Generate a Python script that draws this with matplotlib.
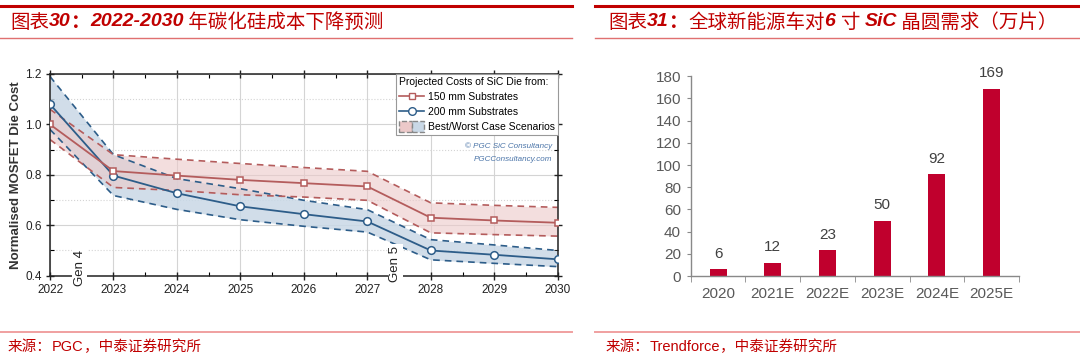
import numpy as np
import matplotlib
matplotlib.use("Agg")
import matplotlib.pyplot as plt
from matplotlib.lines import Line2D
from matplotlib.patches import Patch
from matplotlib.legend_handler import HandlerTuple

W, H = 1080, 363
RED_T = "#C00000"
CJK = ["Noto Sans CJK SC", "DejaVu Sans"]
LAT = ["Liberation Sans", "DejaVu Sans"]

# ---- left chart data: projected SiC die cost ----
years = [2022, 2023, 2024, 2025, 2026, 2027, 2028, 2029, 2030]
cost_150 = [1.00, 0.815, 0.797, 0.780, 0.767, 0.754, 0.630, 0.619, 0.610]
cost_150_hi = [1.06, 0.880, 0.862, 0.845, 0.829, 0.814, 0.689, 0.679, 0.671]
cost_150_lo = [0.94, 0.750, 0.738, 0.721, 0.712, 0.699, 0.570, 0.563, 0.557]
cost_200 = [1.08, 0.797, 0.727, 0.675, 0.644, 0.615, 0.500, 0.483, 0.465]
cost_200_hi = [1.19, 0.880, 0.785, 0.745, 0.699, 0.662, 0.543, 0.522, 0.500]
cost_200_lo = [0.98, 0.718, 0.663, 0.622, 0.596, 0.573, 0.463, 0.449, 0.436]

# ---- right chart data: 6-inch SiC wafer demand (10k pcs) ----
cats = ["2020", "2021E", "2022E", "2023E", "2024E", "2025E"]
demand = [6, 12, 23, 50, 92, 169]

C150, C200 = "#b45c5c", "#2d5d89"
F150, F200 = "#ecc9c9", "#c9d8e6"
BAR = "#C0002D"
GREYTXT = "#595959"

fig = plt.figure(figsize=(W / 100, H / 100), dpi=100)
fig.patch.set_facecolor("white")


def hline(x0, x1, y, color, lw):
    fig.add_artist(Line2D([x0 / W, x1 / W], [1 - y / H, 1 - y / H],
                          transform=fig.transFigure, color=color, lw=lw))


def rich(x, y, pieces, size):
    """draw a row of text pieces one after another, starting at pixel x"""
    r = fig.canvas.get_renderer()
    for s, fam, wt, st in pieces:
        t = fig.text(x / W, 1 - y / H, s, family=fam, weight=wt, style=st,
                     fontsize=size, color=RED_T, va="center", ha="left")
        x = t.get_window_extent(r).x1


# header / footer rules
hline(0, 572, 5.5, RED_T, 2.2)
hline(595, 1080, 5.5, RED_T, 2.2)
hline(0, 572, 38, "#e07070", 1.0)
hline(595, 1080, 38, "#e07070", 1.0)
hline(0, 572, 332, "#f0a0a0", 1.4)
hline(595, 1080, 332, "#f0a0a0", 1.4)

rich(10, 22, [("图表", CJK, "normal", "normal"),
              ("30", LAT, "bold", "italic"),
              ("：", CJK, "bold", "normal"),
              ("2022-2030", LAT, "bold", "italic"),
              (" 年碳化硅成本下降预测", CJK, "normal", "normal")], 14)
rich(608, 22, [("图表", CJK, "normal", "normal"),
               ("31", LAT, "bold", "italic"),
               ("：", CJK, "bold", "normal"),
               ("全球新能源车对", CJK, "normal", "normal"),
               ("6 ", LAT, "bold", "italic"),
               ("寸 ", CJK, "normal", "normal"),
               ("SiC", LAT, "bold", "italic"),
               (" 晶圆需求（万片）", CJK, "normal", "normal")], 14)

rich(8, 347, [("来源：", CJK, "normal", "normal"),
              ("PGC", LAT, "normal", "normal"),
              ("，中泰证券研究所", CJK, "normal", "normal")], 10.5)
rich(606, 347, [("来源：", CJK, "normal", "normal"),
                ("Trendforce", LAT, "normal", "normal"),
                ("，中泰证券研究所", CJK, "normal", "normal")], 10.5)

# ---------------- left: cost projection ----------------
ax = fig.add_axes([50 / W, 1 - 275.7 / H, 507.7 / W, 201.7 / H])
ax.set_xlim(2022, 2030)
ax.set_ylim(0.4, 1.2)
ax.fill_between(years, cost_200_lo, cost_200_hi, color=F200, alpha=0.85, lw=0, zorder=1)
ax.fill_between(years, cost_150_lo, cost_150_hi, color=F150, alpha=0.6, lw=0, zorder=1.1)
for lo, hi, c in [(cost_200_lo, cost_200_hi, C200), (cost_150_lo, cost_150_hi, C150)]:
    ax.plot(years, lo, color=c, lw=1.2, ls=(0, (4, 3)), zorder=2)
    ax.plot(years, hi, color=c, lw=1.2, ls=(0, (4, 3)), zorder=2)
ax.plot(years, cost_200, color=C200, lw=1.3, marker="o", ms=5.5, mfc="white",
        mec=C200, mew=1.1, zorder=3)
ax.plot(years, cost_150, color=C150, lw=1.3, marker="s", ms=5, mfc="white",
        mec=C150, mew=1.1, zorder=3)

ax.set_xticks(years)
ax.set_xticks(np.arange(2022.5, 2030, 1), minor=True)
ax.set_yticks([0.4, 0.6, 0.8, 1.0, 1.2])
ax.set_yticks([0.5, 0.7, 0.9, 1.1], minor=True)
ax.set_yticklabels(["0.4", "0.6", "0.8", "1.0", "1.2"])
ax.grid(which="major", color="#d4d4d4", lw=0.8, zorder=0)
ax.grid(which="minor", axis="y", color="#d4d4d4", lw=0.8, ls=":", zorder=0)
ax.set_axisbelow(True)
for s in ax.spines.values():
    s.set_color("#222222")
    s.set_linewidth(1.1)
ax.tick_params(which="major", direction="inout", length=6, width=1,
               top=True, right=True, labelsize=8.5, pad=3, colors="#222222")
ax.tick_params(which="minor", direction="in", length=3, width=0.8,
               top=True, right=True)
for lab in ax.get_xticklabels() + ax.get_yticklabels():
    lab.set_family(LAT)
ax.set_ylabel("Normalised MOSFET Die Cost", family=LAT, fontsize=9.5,
              weight="bold", color="#333333", labelpad=2)

box = dict(facecolor="white", edgecolor="none", pad=1)
ax.text(2022.47, 0.432, "Gen 4", rotation=90, ha="center", va="center",
        family=LAT, fontsize=9.5, color="#222222", bbox=box, zorder=5, clip_on=False)
ax.text(2027.44, 0.447, "Gen 5", rotation=90, ha="center", va="center",
        family=LAT, fontsize=9.5, color="#222222", bbox=box, zorder=5, clip_on=False)

handles = [Line2D([], [], color=C150, lw=1.2, marker="s", ms=5, mfc="white", mec=C150),
           Line2D([], [], color=C200, lw=1.2, marker="o", ms=5.5, mfc="white", mec=C200),
           (Patch(facecolor=F150, edgecolor="#888888", ls="--", lw=1),
            Patch(facecolor=F200, edgecolor="#888888", ls="--", lw=1))]
leg = ax.legend(handles, ["150 mm Substrates", "200 mm Substrates",
                          "Best/Worst Case Scenarios"],
                title="Projected Costs of SiC Die from:", alignment="left",
                loc="upper right", bbox_to_anchor=(1, 1), borderaxespad=0,
                fancybox=False, framealpha=1, title_fontsize=7.5,
                edgecolor="#999999", handlelength=2.4, handletextpad=0.3,
                labelspacing=0.4, borderpad=0.3, handleheight=1.2,
                handler_map={tuple: HandlerTuple(ndivide=None, pad=0)},
                prop={"family": LAT, "size": 7.5})
leg.get_title().set_family(LAT)
leg.get_frame().set_linewidth(0.8)
leg.set_zorder(6)
ax.text(0.99, 0.64, "© PGC SiC Consultancy", transform=ax.transAxes, ha="right",
        va="center", family=LAT, style="italic", fontsize=5.8, color="#4a74a8")
ax.text(0.99, 0.575, "PGCConsultancy.com", transform=ax.transAxes, ha="right",
        va="center", family=LAT, style="italic", fontsize=5.8, color="#4a74a8")

# ---------------- right: wafer demand ----------------
bx = fig.add_axes([690.7 / W, 1 - 276 / H, 328.3 / W, 199.7 / H])
xpos = np.arange(len(cats))
bx.bar(xpos, demand, width=0.31, color=BAR, zorder=2)
for xi, v in zip(xpos, demand):
    bx.annotate(str(v), (xi, v), xytext=(0, 6), textcoords="offset points",
                ha="center", va="bottom", fontsize=11, color="#404040", family=LAT)
bx.set_xlim(-0.5, len(cats) - 0.5)
bx.set_ylim(0, 180)
bx.set_yticks(np.arange(0, 181, 20))
bx.set_xticks(xpos)
bx.set_xticklabels(cats)
bx.set_xticks(np.arange(-0.5, len(cats), 1), minor=True)
bx.tick_params(axis="x", which="major", length=0, pad=8)
bx.tick_params(axis="x", which="minor", length=4, color="#898989", direction="out")
bx.tick_params(axis="y", length=3, color="#898989", pad=4)
bx.tick_params(labelsize=11, labelcolor=GREYTXT)
for lab in bx.get_xticklabels() + bx.get_yticklabels():
    lab.set_family(LAT)
for k in ["top", "right"]:
    bx.spines[k].set_visible(False)
for k in ["left", "bottom"]:
    bx.spines[k].set_color("#898989")
    bx.spines[k].set_linewidth(1)

fig.savefig("out.png", dpi=100)
